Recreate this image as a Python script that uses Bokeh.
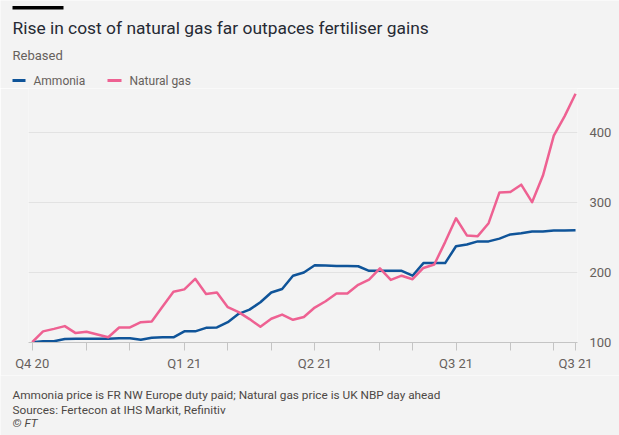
from bokeh.plotting import figure
from bokeh.layouts import column
from bokeh.models import Range1d, FixedTicker, Label, BoxAnnotation
from bokeh.embed import file_html
from bokeh.resources import INLINE

# ---------------- data (weekly, rebased) ----------------
weeks = list(range(51))
ammonia = [100, 101.5, 101.5, 104.5, 105, 105, 105, 105, 105.5, 105.5,
           103.5, 106.5, 107, 107, 115.5, 115.5, 120.5, 121, 128.5, 140.5,
           146.5, 157, 171, 176, 195, 199.5, 210, 209.5, 209, 209,
           208.5, 202, 202, 202, 202, 195, 213, 213, 213, 237,
           239.5, 244, 244, 248, 254, 255.5, 258, 258, 259.5, 259.5, 260]
natural_gas = [100, 115.5, 119, 123, 113, 115, 111, 107, 121, 121,
               128.5, 129.5, 151, 172, 175.5, 190.5, 169, 171, 150, 143,
               133, 122, 133.5, 139.5, 132, 136, 149.5, 158.5, 169.5, 169.5,
               182, 189.5, 205.5, 189, 195, 190, 206, 211, 243, 277,
               252.5, 251.5, 270, 314, 314.5, 325, 300, 338, 395, 423, 455]
x_ticks = [0, 5, 9, 14, 18, 22, 26, 32, 35, 39, 44, 48, 50]
x_tick_labels = {0: "Q4 20", 14: "Q1 21", 26: "Q2 21", 39: "Q3 21", 50: "Q3 21"}
y_ticks = [100, 200, 300, 400]
series_names = ["Ammonia", "Natural gas"]

title_text = "Rise in cost of natural gas far outpaces fertiliser gains"
subtitle_text = "Rebased"
footer_lines = ["Ammonia price is FR NW Europe duty paid; Natural gas price is UK NBP day ahead",
                "Sources: Fertecon at IHS Markit, Refinitiv"]
credit_text = "\u00a9 FT"

# ---------------- style ----------------
BG = "#f3f3f3"
BLUE = "#0f5499"
PINK = "#ee6192"
GREY_TXT = "#66605c"
DARK_TXT = "#262a33"
FOOT_TXT = "#4d4845"
FONT = "Roboto"

W = 619
HEAD_H = 88          # header strip (title, subtitle, legend)
FRAME_H = 254        # plot frame height
AX_H = 33            # space below frame for x axis
FOOT_H = 435 - HEAD_H - FRAME_H - AX_H
FL, FR = 28, 42      # frame left / right borders


def strip(height):
    f = figure(width=W, height=height, output_backend="svg", toolbar_location=None,
               x_range=Range1d(0, W), y_range=Range1d(height, 0),
               x_axis_type=None, y_axis_type=None, min_border=0,
               frame_align=False,
               background_fill_color=BG, border_fill_color=BG, outline_line_color=None)
    f.xgrid.visible = False
    f.ygrid.visible = False
    return f


def add_text(f, txt, x, y, size, color, style="normal"):
    f.add_layout(Label(x=x, y=y, text=txt, text_font=FONT, text_font_size=size,
                       text_color=color, text_baseline="alphabetic",
                       text_font_style=style))


def add_box(f, x0, x1, y0, y1, color):
    f.add_layout(BoxAnnotation(left=x0, right=x1, top=y0, bottom=y1,
                               fill_color=color, fill_alpha=1, line_color=None))


# ---------------- header ----------------
head = strip(HEAD_H)
add_box(head, 12, 63, 5.5, 9, "#000000")
add_text(head, title_text, 12, 27.5, "17.4px", DARK_TXT)
add_text(head, subtitle_text, 12, 54.5, "13px", GREY_TXT)
add_box(head, 12, 25, 78.5, 81.5, BLUE)
add_text(head, series_names[0], 33, 80.5, "12px", GREY_TXT)
add_box(head, 107, 121, 78.5, 81.5, PINK)
add_text(head, series_names[1], 129, 80.5, "12px", GREY_TXT)

# ---------------- main chart ----------------
p = figure(width=W, height=FRAME_H + AX_H, output_backend="svg", toolbar_location=None,
           x_range=Range1d(-0.34, 50.18), y_range=Range1d(99.57, 462.4),
           min_border_left=FL, min_border_right=FR, min_border_top=0,
           min_border_bottom=AX_H, frame_align=False,
           background_fill_color=BG, border_fill_color=BG,
           outline_line_color=None, y_axis_location="right")

xa = p.xaxis[0]
xa.ticker = FixedTicker(ticks=x_ticks)
xa.major_label_overrides = {t: x_tick_labels.get(t, "") for t in x_ticks}
xa.axis_line_color = "#c4c4c4"
xa.major_tick_line_color = "#c4c4c4"
xa.major_tick_out = 8
xa.major_tick_in = 0
xa.minor_tick_line_color = None
xa.major_label_standoff = 5
xa.major_label_text_font = FONT
xa.major_label_text_font_size = "13px"
xa.major_label_text_color = GREY_TXT

ya = p.yaxis[0]
ya.ticker = FixedTicker(ticks=y_ticks)
ya.axis_line_color = None
ya.major_tick_line_color = None
ya.minor_tick_line_color = None
ya.major_label_standoff = 6
ya.major_label_text_font = FONT
ya.major_label_text_font_size = "13px"
ya.major_label_text_color = GREY_TXT

p.xgrid.grid_line_color = None
p.ygrid.ticker = FixedTicker(ticks=y_ticks[1:])
p.ygrid.grid_line_color = "#e2e2e2"

p.line(weeks, ammonia, line_color=BLUE, line_width=2.5, line_join="round")
p.line(weeks, natural_gas, line_color=PINK, line_width=2.5, line_join="round")

# ---------------- footer ----------------
foot = strip(FOOT_H)
add_text(foot, footer_lines[0], 12, 19.5, "11.8px", FOOT_TXT)
add_text(foot, footer_lines[1], 12, 34, "11.8px", FOOT_TXT)
add_text(foot, credit_text, 12, 47.5, "11.8px", FOOT_TXT, style="italic")

layout = column(head, p, foot, spacing=0)
open("out.html", "w").write(file_html(layout, INLINE))
